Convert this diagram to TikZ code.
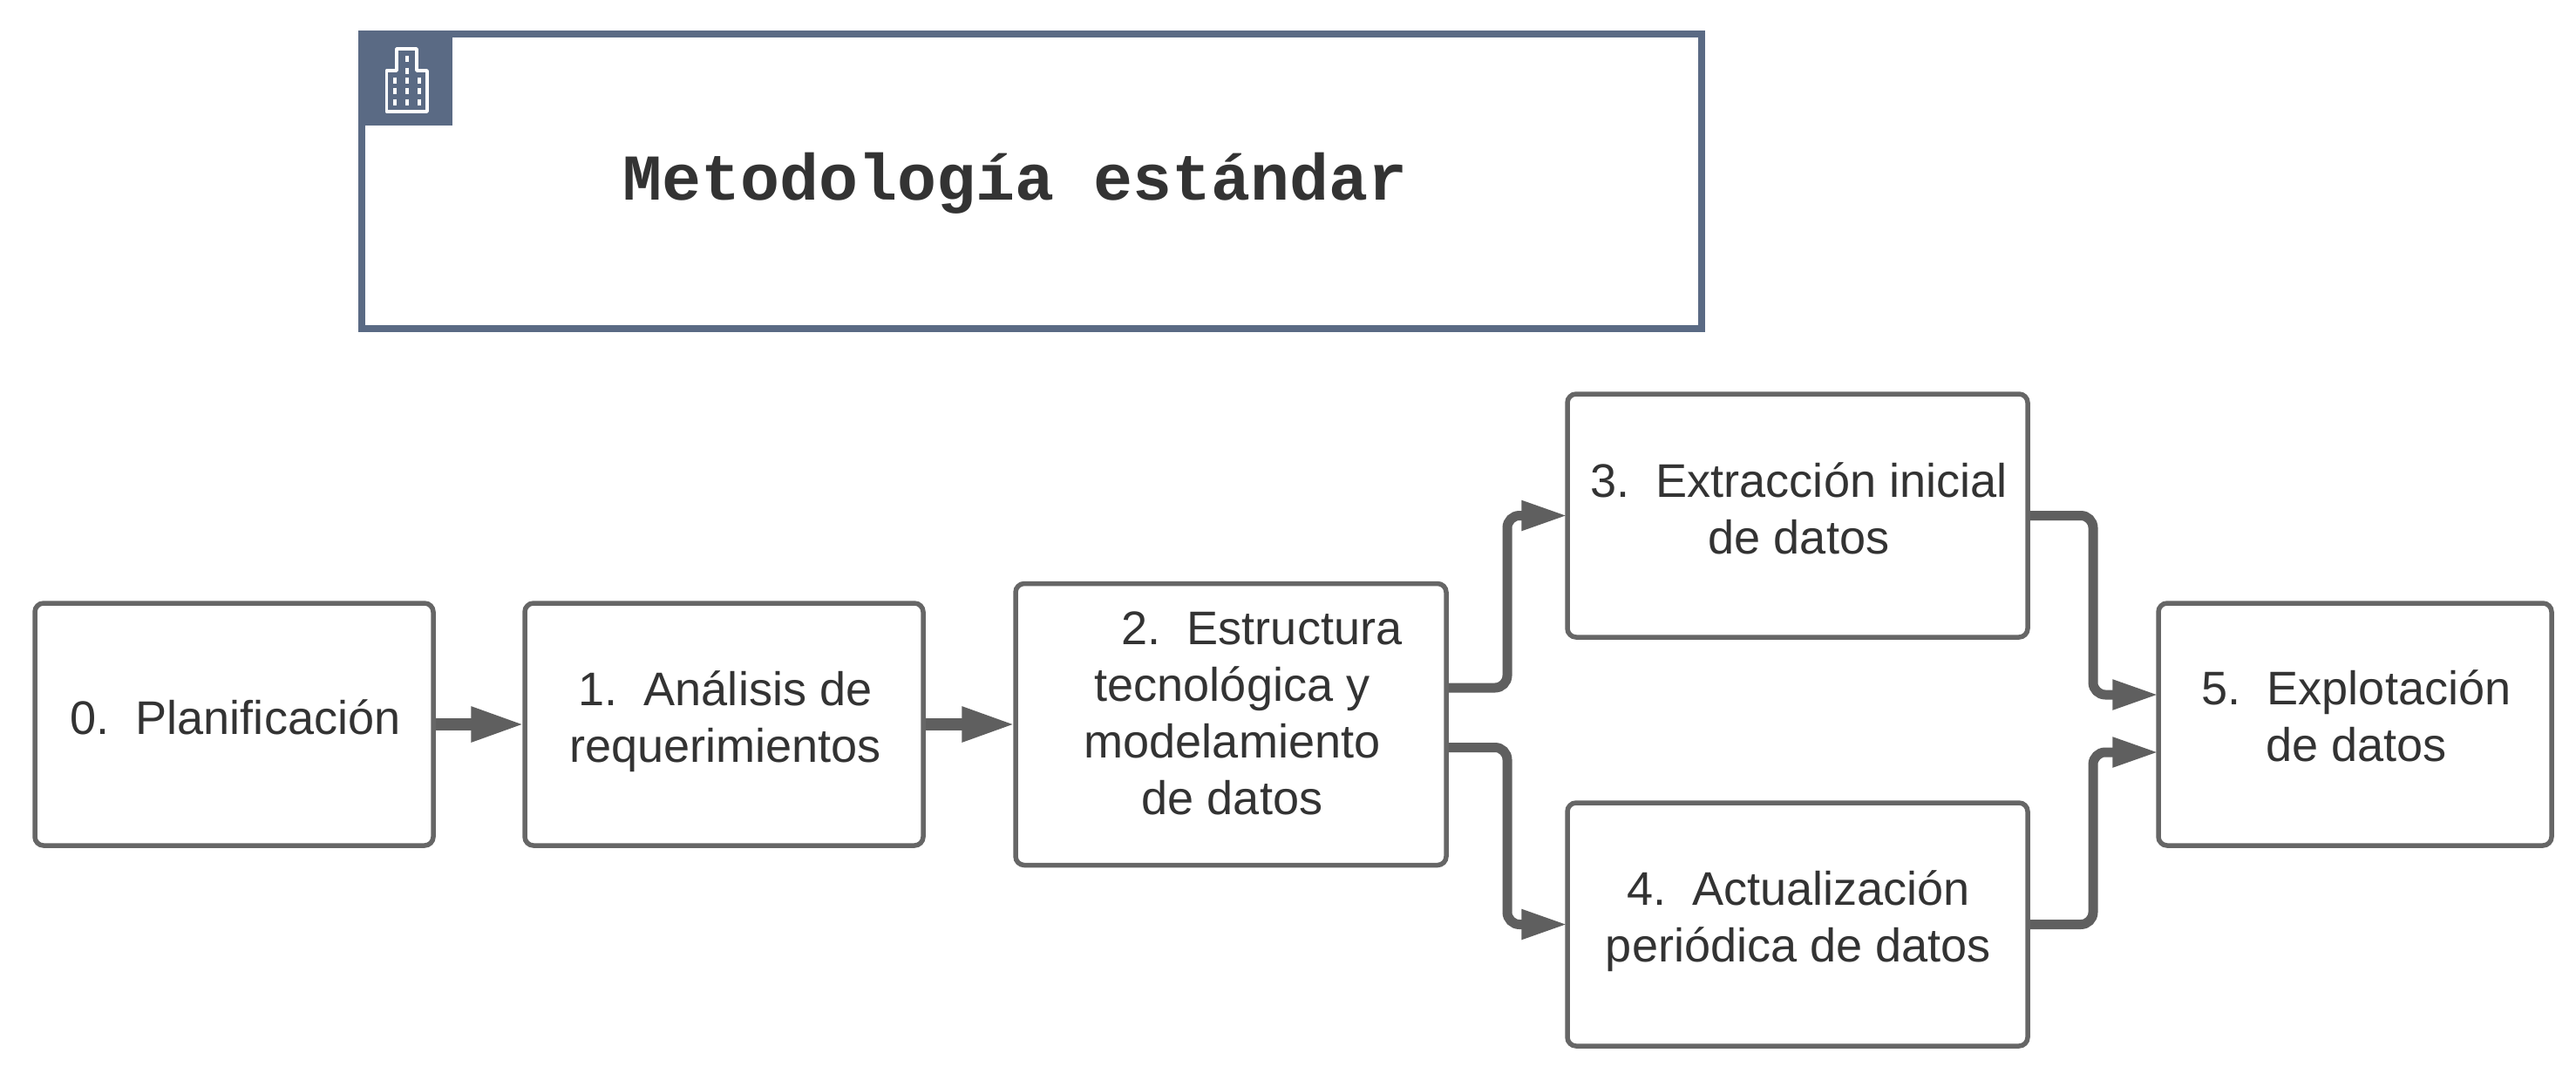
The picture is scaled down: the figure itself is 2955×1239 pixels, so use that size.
\documentclass[tikz,border=0pt]{standalone}
\usepackage{fontspec}
\setmainfont{Liberation Sans}
\newfontfamily\titlefont{Liberation Mono}[BoldFont={Liberation Mono Bold}]
\usetikzlibrary{arrows.meta}
\definecolor{slate}{HTML}{5A6A84}
\definecolor{ink}{HTML}{333333}
\definecolor{grayline}{HTML}{666666}
\definecolor{grayarrow}{HTML}{5F5F5F}
\tikzset{
  x=1pt,y=-1pt,
  stepbox/.style={draw=grayline,line width=5.5pt,rounded corners=10pt,fill=white,inner sep=0pt},
  steptext/.style={text=ink,align=center,inner sep=0pt,font=\fontsize{54.1}{65.2}\selectfont},
  straightarrow/.style={draw=grayarrow,line width=14pt,shorten >=-3pt,-{Triangle[length=62pt,width=37pt]}},
  elbowarrow/.style={draw=grayarrow,line width=11pt,rounded corners=14pt,shorten >=-3pt,-{Triangle[length=53pt,width=32pt]}},
  iconline/.style={draw=white,line width=3.5pt,line join=round},
  iconwin/.style={draw=white,line width=3.5pt},
}
\newcommand{\stepnode}[5]{%
  \node[stepbox,minimum width=#4 pt,minimum height=#5 pt] (#1) at (#2,#3) {};
}
\begin{document}
\begin{tikzpicture}
\useasboundingbox (0,0) rectangle (2955,1239);
\fill[white] (0,0) rectangle (2955,1239);
% title box
\node[draw=slate,line width=8pt,fill=white,minimum width=1537.5pt,minimum height=337.5pt,inner sep=0pt] (titlebox) at (1183.25,208.25) {};
\node[text=ink,inner sep=0pt,font=\fontsize{75}{90}\titlefont\bfseries] (titletext) at (1165,210) {Metodología estándar};
\node[fill=slate,minimum width=108pt,minimum height=108pt,inner sep=0pt,anchor=north west] (iconbox) at (titlebox.north west) {};
% icon
\draw[iconline] (443.5,81) -- (455,81) -- (455,56) -- (478,56) -- (478,81) -- (490,81) -- (490,128) -- (443.5,128) -- cycle;
\foreach \wx in {453,467,481} \foreach \wy in {92,104,117} {
  \draw[iconwin] (\wx,\wy-3.5) -- (\wx,\wy+3.5);
}
\foreach \wy in {68,81} { \draw[iconwin] (467,\wy-3.5) -- (467,\wy+3.5); }
% boxes
\stepnode{b0}{268.5}{831}{457}{278}
\stepnode{b1}{830.5}{831}{457}{278}
\stepnode{b2}{1412}{831}{494}{323}
\stepnode{b3}{2062}{591.5}{528}{279}
\stepnode{b4}{2062}{1060.5}{528}{279}
\stepnode{b5}{2701.5}{831}{451}{278}
% texts
\node[steptext] (t0) at (270,822.5) {0.\ \ Planificación};
\node[steptext] (t1) at (832,827.5) {1.\ \ Análisis de\\requerimientos};
\node[steptext] (t2) at (1413.5,818.5) {\hspace*{68pt}2.\ \ Estructura\\tecnológica y\\modelamiento\\de datos};
\node[steptext] (t3) at (2063.5,583.5) {3.\ \ Extracción inicial\\de datos};
\node[steptext] (t4) at (2063,1056.5) {4.\ \ Actualización\\periódica de datos};
\node[steptext] (t5) at (2703,821.5) {5.\ \ Explotación\\de datos};
% coordinates
\coordinate (j3) at (1729,789);
\coordinate (j4) at (1729,857.5);
\coordinate (k3) at (2401,797);
\coordinate (k4) at (2401,863);
% connectors
\draw[straightarrow] (b0) -- (b1);
\draw[straightarrow] (b1) -- (b2);
\draw[elbowarrow] (b2.east |- j3) -- (j3) -- (j3 |- b3.west) -- (b3.west);
\draw[elbowarrow] (b2.east |- j4) -- (j4) -- (j4 |- b4.west) -- (b4.west);
\draw[elbowarrow] (b3.east) -- (k3 |- b3.east) -- (k3) -- (b5.west |- k3);
\draw[elbowarrow] (b4.east) -- (k4 |- b4.east) -- (k4) -- (b5.west |- k4);
\end{tikzpicture}
\end{document}
